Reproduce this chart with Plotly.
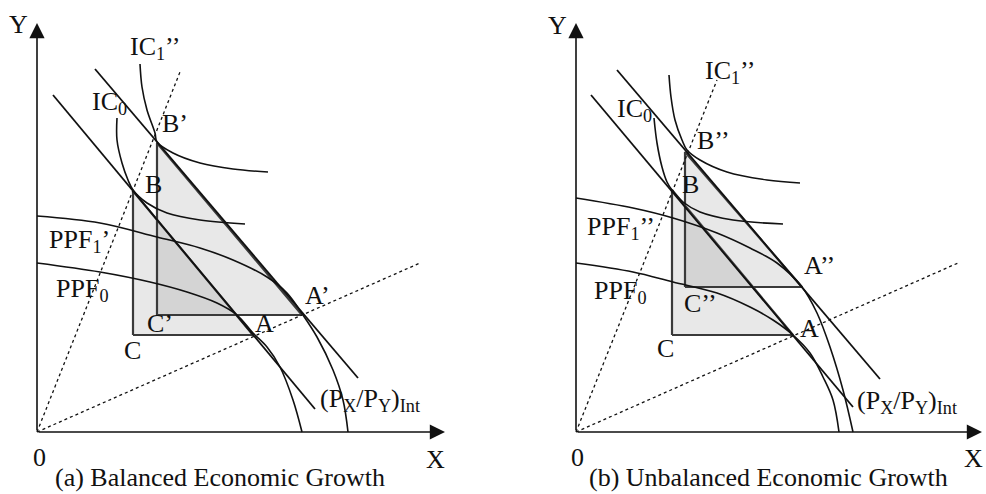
import plotly.graph_objects as go

# ---------------- Panel (a): Balanced growth ----------------
A_RAY_STEEP_X = [0, 143]
A_RAY_STEEP_Y = [0, 360]
A_RAY_FLAT_X = [0, 383]
A_RAY_FLAT_Y = [0, 169]
A_PRICE0_X = [16, 278]
A_PRICE0_Y = [337, 23]
A_PRICE1_X = [58, 321]
A_PRICE1_Y = [363, 54]
A_IC1_X = [103, 105, 110, 118, 120, 136, 163, 196, 231]
A_IC1_Y = [368, 345, 322, 299, 290, 279, 269, 263, 260]
A_IC0_X = [80, 80, 85, 91, 96, 110, 130, 163, 208]
A_IC0_Y = [314, 292, 269, 252, 242, 229, 219, 212, 208]
A_PPF1_X = [0, 63, 120, 163, 196, 230, 250, 266, 280, 296, 306, 311]
A_PPF1_Y = [216, 209, 195, 184, 172, 155, 139, 117, 95, 62, 32, 0]
A_PPF0_X = [0, 63, 113, 150, 180, 200, 216, 230, 243, 256, 265]
A_PPF0_Y = [169, 160, 150, 140, 129, 117, 99, 85, 65, 32, 0]
A_TRI0_X = [96, 96, 216, 96]      # C, B, A
A_TRI0_Y = [97, 241, 97, 97]
A_TRI1_X = [120, 120, 265, 120]   # C', B', A'
A_TRI1_Y = [117, 289, 117, 117]

# ---------------- Panel (b): Unbalanced growth ----------------
B_RAY_STEEP_X = [0, 141]
B_RAY_STEEP_Y = [0, 352]
B_RAY_FLAT_X = [0, 382]
B_RAY_FLAT_Y = [0, 169]
B_PRICE0_X = [15, 277]
B_PRICE0_Y = [337, 25]
B_PRICE1_X = [41, 304]
B_PRICE1_Y = [362, 53]
B_IC1_X = [93, 95, 99, 106, 111, 124, 151, 191, 224]
B_IC1_Y = [357, 335, 312, 292, 282, 272, 260, 252, 249]
B_IC0_X = [78, 81, 86, 91, 96, 107, 124, 157, 207]
B_IC0_Y = [314, 289, 265, 250, 242, 230, 220, 212, 208]
B_PPF1_X = [0, 57, 97, 141, 174, 201, 226, 241, 254, 267, 277]
B_PPF1_Y = [234, 224, 214, 199, 184, 169, 145, 119, 85, 42, 0]
B_PPF0_X = [0, 57, 97, 141, 174, 197, 217, 234, 247, 257, 263]
B_PPF0_Y = [169, 160, 150, 139, 125, 112, 97, 79, 55, 32, 0]
B_TRI0_X = [96, 96, 217, 96]      # C, B, A
B_TRI0_Y = [97, 242, 97, 97]
B_TRI1_X = [109, 109, 226, 109]   # C'', B'', A''
B_TRI1_Y = [145, 280, 145, 145]

FONT = "Liberation Serif"
FS = 26
INK = "#111111"

fig = go.Figure()


def add_panel(xa, ya, tri0, tri1, rays, prices, ics, ppfs):
    for tx, ty in (tri0, tri1):
        fig.add_trace(go.Scatter(x=tx, y=ty, mode="lines", fill="toself",
                                 fillcolor="rgba(110,110,110,0.16)",
                                 line=dict(color="#3a3a3a", width=2.2),
                                 xaxis=xa, yaxis=ya, hoverinfo="skip"))
    for rx, ry in rays:
        fig.add_trace(go.Scatter(x=rx, y=ry, mode="lines",
                                 line=dict(color=INK, width=1.3, dash="dot"),
                                 xaxis=xa, yaxis=ya, hoverinfo="skip"))
    for px, py in prices:
        fig.add_trace(go.Scatter(x=px, y=py, mode="lines",
                                 line=dict(color=INK, width=1.8),
                                 xaxis=xa, yaxis=ya, hoverinfo="skip"))
    for cx, cy in ics + ppfs:
        fig.add_trace(go.Scatter(x=cx, y=cy, mode="lines",
                                 line=dict(color=INK, width=1.6, shape="spline"),
                                 xaxis=xa, yaxis=ya, hoverinfo="skip"))


add_panel("x", "y", (A_TRI0_X, A_TRI0_Y), (A_TRI1_X, A_TRI1_Y),
          [(A_RAY_STEEP_X, A_RAY_STEEP_Y), (A_RAY_FLAT_X, A_RAY_FLAT_Y)],
          [(A_PRICE0_X, A_PRICE0_Y), (A_PRICE1_X, A_PRICE1_Y)],
          [(A_IC1_X, A_IC1_Y), (A_IC0_X, A_IC0_Y)],
          [(A_PPF1_X, A_PPF1_Y), (A_PPF0_X, A_PPF0_Y)])
add_panel("x2", "y2", (B_TRI0_X, B_TRI0_Y), (B_TRI1_X, B_TRI1_Y),
          [(B_RAY_STEEP_X, B_RAY_STEEP_Y), (B_RAY_FLAT_X, B_RAY_FLAT_Y)],
          [(B_PRICE0_X, B_PRICE0_Y), (B_PRICE1_X, B_PRICE1_Y)],
          [(B_IC1_X, B_IC1_Y), (B_IC0_X, B_IC0_Y)],
          [(B_PPF1_X, B_PPF1_Y), (B_PPF0_X, B_PPF0_Y)])

annots = []


def axis_arrows(xr, yr, xtip, ytip):
    for (x, y) in ((xtip, 0), (0, ytip)):
        annots.append(dict(x=x, y=y, ax=0, ay=0, xref=xr, yref=yr,
                           axref=xr, ayref=yr, text="", showarrow=True,
                           arrowhead=2, arrowsize=1.9, arrowwidth=1.6,
                           arrowcolor=INK))


def label(xr, yr, x, y, txt, anchor="left", size=FS, yanchor="middle"):
    annots.append(dict(x=x, y=y, xref=xr, yref=yr, text=txt, showarrow=False,
                       xanchor=anchor, yanchor=yanchor,
                       font=dict(family=FONT, size=size, color=INK)))


axis_arrows("x", "y", 408, 409)
axis_arrows("x2", "y2", 406, 409)

# Panel (a) labels
label("x", "y", 91, 384, "IC<sub>1</sub>’’")
label("x", "y", 53, 329, "IC<sub>0</sub>")
label("x", "y", 123, 309, "B’")
label("x", "y", 106, 248, "B")
label("x", "y", 10, 191, "PPF<sub>1</sub>’")
label("x", "y", 17, 142, "PPF<sub>0</sub>")
label("x", "y", 266, 137, "A’")
label("x", "y", 108, 109, "C’")
label("x", "y", 216, 109, "A")
label("x", "y", 85, 82, "C")
label("x", "y", 281, 32, "(P<sub>X</sub>/P<sub>Y</sub>)<sub>Int</sub>")
label("x", "y", -19, 408, "Y", "center")
label("x", "y", 2, -25, "0", "center")
label("x", "y", 398, -27, "X", "center")
label("x", "y", 183, -61.5, "(a) Balanced Economic Growth", "center", yanchor="bottom")

# Panel (b) labels
label("x2", "y2", 127, 360, "IC<sub>1</sub>’’")
label("x2", "y2", 39, 322, "IC<sub>0</sub>")
label("x2", "y2", 119, 292, "B’’")
label("x2", "y2", 104, 248, "B")
label("x2", "y2", 9, 204, "PPF<sub>1</sub>’’")
label("x2", "y2", 16, 140, "PPF<sub>0</sub>")
label("x2", "y2", 226, 167, "A’’")
label("x2", "y2", 106, 129, "C’’")
label("x2", "y2", 222, 104, "A")
label("x2", "y2", 79, 84, "C")
label("x2", "y2", 279, 30, "(P<sub>X</sub>/P<sub>Y</sub>)<sub>Int</sub>")
label("x2", "y2", -19, 407, "Y", "center")
label("x2", "y2", 1, -25, "0", "center")
label("x2", "y2", 397, -26, "X", "center")
label("x2", "y2", 192, -61.5, "(b) Unbalanced Economic Growth", "center", yanchor="bottom")

ax_common = dict(visible=False, fixedrange=True)
fig.update_layout(
    width=986, height=494,
    margin=dict(l=0, r=0, t=0, b=0),
    paper_bgcolor="white", plot_bgcolor="white",
    showlegend=False,
    xaxis=dict(domain=[0, 0.5], range=[-37, 456], **ax_common),
    yaxis=dict(domain=[0, 1], range=[-62, 432], **ax_common),
    xaxis2=dict(domain=[0.5, 1], range=[-83, 410], anchor="y2", **ax_common),
    yaxis2=dict(domain=[0, 1], range=[-62, 432], anchor="x2", **ax_common),
    annotations=annots,
)

fig.write_html("out.html", config={"displayModeBar": False},
               post_script="document.body.style.margin='0';document.body.style.overflow='hidden';")
